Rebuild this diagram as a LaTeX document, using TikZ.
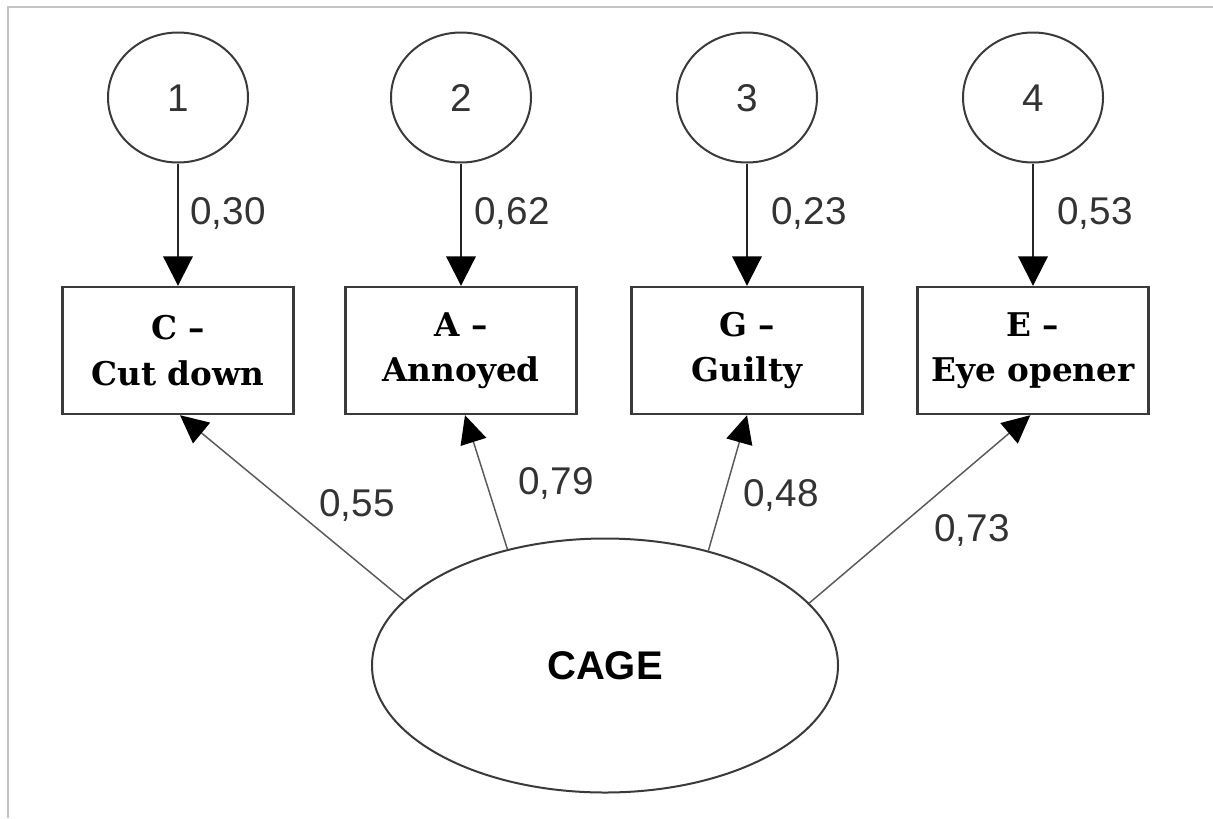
\documentclass[tikz,border=0pt]{standalone}
\usepackage{fontspec}
\setmainfont{Liberation Sans}
\newfontfamily\boxfont{DejaVu Serif}
\usetikzlibrary{shapes.geometric,arrows.meta}
\definecolor{framegray}{HTML}{C4C4C4}
\definecolor{edgegray}{HTML}{3A3A3A}
\definecolor{numgray}{HTML}{333333}
\tikzset{
  errvar/.style={ellipse, draw=edgegray, line width=1.5pt, minimum width=105pt,
    minimum height=97.5pt, inner sep=0pt, font=\fontsize{29}{29}\selectfont,
    text=numgray, text height=20.8pt, text depth=0pt},
  item/.style={rectangle, draw=edgegray, line width=1.8pt, minimum width=173.25pt,
    minimum height=95.25pt, inner sep=0pt, align=center,
    font=\boxfont\bfseries\fontsize{24.5}{34}\selectfont},
  latent/.style={ellipse, draw=edgegray, line width=1.5pt, minimum width=349.5pt,
    minimum height=190.5pt, inner sep=0pt, font=\bfseries\fontsize{30}{30}\selectfont,
    text height=21.5pt, text depth=0pt},
  coef/.style={font=\fontsize{29}{29}\selectfont, text=numgray, inner sep=0pt,
    text height=20.8pt, text depth=0pt},
  resid/.style={draw=black!85, line width=1.5pt,
    -{Triangle[length=22pt,width=22pt,color=black]}},
  load/.style={draw=black!65, line width=1.1pt,
    -{Triangle[length=21pt,width=20pt,color=black]}}
}
\begin{document}
\begin{tikzpicture}[x=0.75pt,y=-0.75pt]
  \useasboundingbox (0,0) rectangle (1213,818);
  % frame
  \draw[framegray, line width=1.5pt] (1213,7) -- (8,7) -- (8,818);

  % error terms
  \node[errvar] (e1) at (178,97.5) {1};
  \node[errvar] (e2) at (461,97.5) {2};
  \node[errvar] (e3) at (747,97.5) {3};
  \node[errvar] (e4) at (1033,97.5) {4};

  % observed items
  \node[item] (b1) at (178,350.5) {C –\\Cut down};
  \node[item] (b2) at (461,350.5) {A –\\Annoyed};
  \node[item] (b3) at (747,350.5) {G –\\Guilty};
  \node[item] (b4) at (1033,350.5) {E –\\Eye opener};

  % latent factor
  \node[latent] (cage) at (605,665.5) {CAGE};

  % residual paths
  \draw[resid] (e1.south) -- (b1.north);
  \draw[resid] (e2.south) -- (b2.north);
  \draw[resid] (e3.south) -- (b3.north);
  \draw[resid] (e4.south) -- (b4.north);

  % loadings
  \draw[load] (cage.162.5) -- ([xshift=1.5pt]b1.south);
  \draw[load] (cage.130.2) -- ([xshift=3pt]b2.south);
  \draw[load] (cage.48.9) -- (b3.south);
  \draw[load] (cage.17.2) -- ([xshift=-2pt]b4.south);

  % coefficients
  \node[coef] at (228,211) {0,30};
  \node[coef] at (512,211) {0,62};
  \node[coef] at (809,211) {0,23};
  \node[coef] at (1095,211) {0,53};
  \node[coef] at (357,503) {0,55};
  \node[coef] at (556,481) {0,79};
  \node[coef] at (781,493) {0,48};
  \node[coef] at (972,528) {0,73};
\end{tikzpicture}
\end{document}
